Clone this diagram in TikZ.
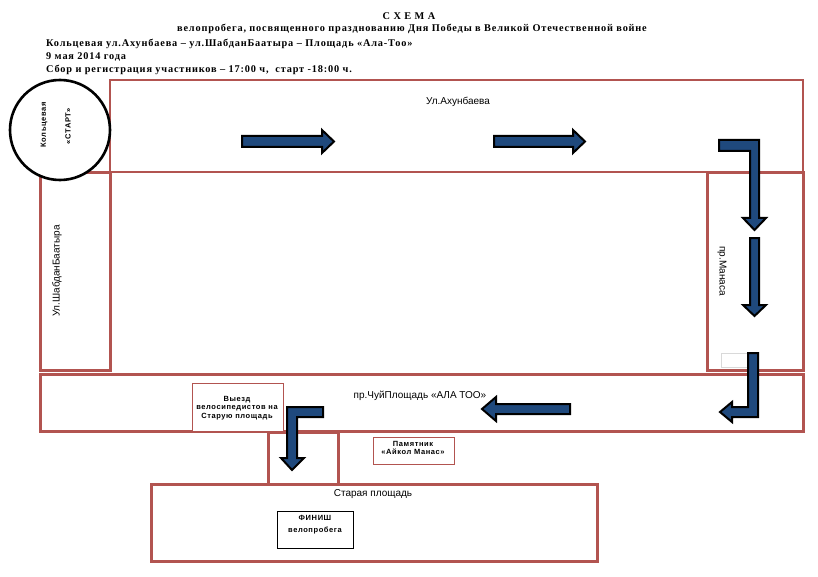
\documentclass[tikz,border=0pt]{standalone}
\usepackage{fontspec}
\setmainfont{Liberation Serif}
\setsansfont{Liberation Sans}
\usetikzlibrary{shadows}
\definecolor{streetred}{RGB}{178,84,80}
\definecolor{arrowblue}{RGB}{31,73,125}
\tikzset{
	street/.style={draw=streetred, line width=3pt, fill=white, drop shadow={opacity=0.25, shadow xshift=1.5pt, shadow yshift=-1.5pt}},
	road/.style={draw=streetred, line width=1.8pt},
	infobox/.style={draw=streetred, line width=0.8pt, fill=white},
	route/.style={draw=black, line width=2pt, fill=arrowblue, line join=miter},
	streetname/.style={font=\sffamily\fontsize{10}{12}\selectfont},
	boxtext/.style={font=\sffamily\bfseries\fontsize{7.5}{8.5}\selectfont\addfontfeatures{LetterSpace=8}, align=center},
	headline/.style={font=\bfseries\fontsize{10.3}{12}\selectfont\addfontfeatures{LetterSpace=8}, inner sep=0pt}
}
\begin{document}
\begin{tikzpicture}[x=1pt, y=-1pt]
	\useasboundingbox (0,0) rectangle (818,577);

	% heading
	\node[headline](title) at (409,16) {С\,\,Х\,\,Е\,\,М\,\,А};
	\node[headline](sub) at (412,29) {велопробега, посвященного празднованию Дня Победы в Великой Отечественной войне};
	\node[headline, anchor=west](line1) at (46,44) {Кольцевая ул.Ахунбаева – ул.ШабданБаатыра – Площадь «Ала-Тоо»};
	\node[headline, anchor=west](line2) at (46,57) {9 мая 2014 года};
	\node[headline, anchor=west](line3) at (46,70) {Сбор и регистрация участников – 17:00 ч,\ \ старт -18:00 ч.};

	% streets
	\draw[road] (110,80) rectangle (803,172);
	\draw[street] (40,173) rectangle (110,370);
	\draw[street] (707,173) rectangle (803,370);
	\draw[street] (40,374) rectangle (803,431);
	\draw[street] (268,432) rectangle (338,484);
	\draw[street] (151,484) rectangle (597,561);

	\draw[infobox] (192,383) rectangle (283,431);
	\draw[infobox] (373,437) rectangle (454,464);
	\draw[draw=black, line width=0.8pt] (277,511) rectangle (353,548);
	\draw[draw=gray!30, line width=0.6pt] (721,353) rectangle (748,367);

	% start
	\draw[line width=2.6pt, fill=white] (60,130) circle (50);
	\node[boxtext, rotate=90](ring) at (44,125) {Кольцевая};
	\node[boxtext, rotate=90](start) at (68,126) {«СТАРТ»};

	% street names
	\node[streetname](akh) at (458,102) {Ул.Ахунбаева};
	\node[streetname, rotate=90](shab) at (57,271) {Ул.ШабданБаатыра};
	\node[streetname, rotate=-90](man) at (722,271) {пр.Манаса};
	\node[streetname](chuy) at (420,396) {пр.ЧуйПлощадь «АЛА ТОО»};
	\node[streetname](old) at (373,494) {Старая площадь};

	\node[boxtext](exit) at (237,408) {Выезд\\велосипедистов на\\Старую площадь};
	\node[boxtext](monument) at (413,448) {Памятник\\«Айкол Манас»};
	\node[boxtext, font=\sffamily\bfseries\fontsize{7.5}{12}\selectfont\addfontfeatures{LetterSpace=8}](finish) at (315,525) {ФИНИШ\\велопробега};

	% route
	\draw[route] (242,136) -- (322,136) -- (322,130) -- (334,141.5) -- (322,153) -- (322,147) -- (242,147) -- cycle;
	\draw[route] (494,136) -- (573,136) -- (573,130) -- (585,141.5) -- (573,153) -- (573,147) -- (494,147) -- cycle;
	\draw[route] (719,140) -- (759,140) -- (759,218) -- (766,218) -- (754.5,230) -- (743,218) -- (750,218) -- (750,151) -- (719,151) -- cycle;
	\draw[route] (750,238) -- (759,238) -- (759,305) -- (766,305) -- (754.5,316) -- (743,305) -- (750,305) -- cycle;
	\draw[route] (748,353) -- (758,353) -- (758,417) -- (732,417) -- (732,422) -- (720,412) -- (732,402) -- (732,407) -- (748,407) -- cycle;
	\draw[route] (570,404) -- (496,404) -- (496,397) -- (482,409) -- (496,421) -- (496,414) -- (570,414) -- cycle;
	\draw[route] (323,407) -- (287,407) -- (287,458) -- (281,458) -- (292,470) -- (304,458) -- (297,458) -- (297,417) -- (323,417) -- cycle;
\end{tikzpicture}
\end{document}
